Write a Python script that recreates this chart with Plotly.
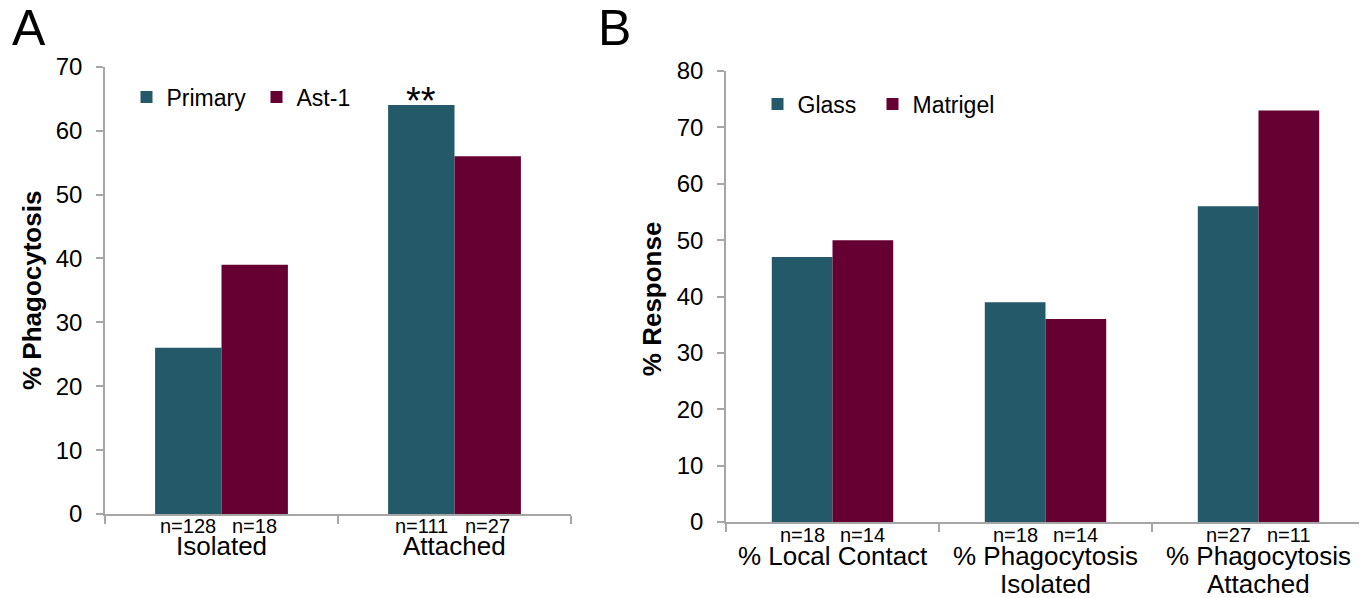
import plotly.graph_objects as go

# ---------------- data ----------------
cats_a = ["Isolated", "Attached"]
primary = [26, 64]
ast1 = [39, 56]
n_primary = ["n=128", "n=111"]
n_ast1 = ["n=18", "n=27"]

cats_b = ["% Local Contact", "% Phagocytosis<br>Isolated", "% Phagocytosis<br>Attached"]
glass = [47, 39, 56]
matrigel = [50, 36, 73]
n_glass = ["n=18", "n=18", "n=27"]
n_matrigel = ["n=14", "n=14", "n=11"]

TEAL = "#235968"
MAROON = "#660033"
AXIS = "#a6a6a6"
FONT = "Liberation Sans, Arial, Helvetica, sans-serif"
OFF = 8                      # page body margin of the browser
FW, FH = 1367 - OFF, 598 - OFF
GAP_A = 0.43
GAP_B = 0.43


def fx(p):
    """screen pixel x -> paper fraction"""
    return (p - OFF) / FW


def fy(p):
    """screen pixel y -> paper fraction"""
    return 1 - (p - OFF) / FH


fig = go.Figure()
fig.add_trace(go.Bar(x=list(range(len(cats_a))), y=primary, name="Primary", marker_color=TEAL,
                     marker_line_width=0, xaxis="x", yaxis="y", legend="legend"))
fig.add_trace(go.Bar(x=list(range(len(cats_a))), y=ast1, name="Ast-1", marker_color=MAROON,
                     marker_line_width=0, xaxis="x", yaxis="y", legend="legend2"))
fig.add_trace(go.Bar(x=list(range(len(cats_b))), y=glass, name="Glass", marker_color=TEAL,
                     marker_line_width=0, xaxis="x2", yaxis="y2", legend="legend3"))
fig.add_trace(go.Bar(x=list(range(len(cats_b))), y=matrigel, name="Matrigel", marker_color=MAROON,
                     marker_line_width=0, xaxis="x2", yaxis="y2", legend="legend4"))

common_x = dict(showline=True, linecolor=AXIS, linewidth=1.5, ticks="outside", ticklen=8,
                tickcolor=AXIS, tickwidth=1.5, showgrid=False, zeroline=False,
                showticklabels=False, fixedrange=True)
common_y = dict(showline=True, linecolor=AXIS, linewidth=1.5, ticks="outside", ticklen=7,
                tickcolor=AXIS, tickwidth=1.5, showgrid=False, zeroline=False,
                tickfont=dict(size=24, color="black", family=FONT), ticklabelstandoff=9,
                dtick=10, tick0=0)


def one_legend(square_center_x, center_y):
    return dict(x=fx(square_center_x - 21), y=fy(center_y), xanchor="left", yanchor="middle",
                font=dict(size=23, family=FONT), itemwidth=30,
                bgcolor="rgba(0,0,0,0)")


fig.update_layout(
    width=FW, height=FH, margin=dict(l=0, r=0, t=0, b=0, autoexpand=False),
    paper_bgcolor="white", plot_bgcolor="white",
    font=dict(family=FONT, color="black"),
    barmode="group", bargap=GAP_A,
    xaxis=dict(domain=[fx(105), fx(571)], anchor="y", range=[-0.5, len(cats_a) - 0.5],
               tickvals=[-0.5, 0.5, 1.5], **common_x),
    yaxis=dict(domain=[fy(514), fy(66.7)], anchor="x", range=[0, 70], **common_y),
    xaxis2=dict(domain=[fx(726), fx(1365)], anchor="y2", range=[-0.5, len(cats_b) - 0.5],
                tickvals=[-0.5, 0.5, 1.5, 2.5], **common_x),
    yaxis2=dict(domain=[fy(522), fy(71)], anchor="x2", range=[0, 80], **common_y),
    legend=one_legend(147.5, 97),
    legend2=one_legend(277.5, 97),
    legend3=one_legend(778.5, 104),
    legend4=one_legend(893.5, 104),
    showlegend=True,
)

ann = []
off_a = (1 - GAP_A) / 4
off_b = (1 - GAP_B) / 4
for i, c in enumerate(cats_a):
    ann.append(dict(x=i, y=0, xref="x", yref="y", text=c, showarrow=False, yanchor="top",
                    yshift=-14.5, font=dict(size=26)))
    ann.append(dict(x=i - off_a, y=0, xref="x", yref="y", text=n_primary[i], showarrow=False,
                    yanchor="top", yshift=1, font=dict(size=20)))
    ann.append(dict(x=i + off_a, y=0, xref="x", yref="y", text=n_ast1[i], showarrow=False,
                    yanchor="top", yshift=1, font=dict(size=20)))
for i, c in enumerate(cats_b):
    for k, line in enumerate(c.split("<br>")):
        ann.append(dict(x=i, y=0, xref="x2", yref="y2", text=line, showarrow=False,
                        yanchor="top", yshift=-16.5 - 28.5 * k, font=dict(size=26)))
    ann.append(dict(x=i - off_b, y=0, xref="x2", yref="y2", text=n_glass[i], showarrow=False,
                    yanchor="top", yshift=0, font=dict(size=20)))
    ann.append(dict(x=i + off_b, y=0, xref="x2", yref="y2", text=n_matrigel[i], showarrow=False,
                    yanchor="top", yshift=0, font=dict(size=20)))

# significance marker over Attached / Primary
ann.append(dict(x=1 - off_a, y=primary[1], xref="x", yref="y", text="**", showarrow=False,
                yanchor="bottom", yshift=-19, font=dict(size=38)))

# axis titles
ann.append(dict(x=fx(31.5), y=fy(290.5), xref="paper", yref="paper", text="<b>% Phagocytosis</b>",
                textangle=-90, showarrow=False, xanchor="center", yanchor="middle",
                font=dict(size=26)))
ann.append(dict(x=fx(651.7), y=fy(298.5), xref="paper", yref="paper", text="<b>% Response</b>",
                textangle=-90, showarrow=False, xanchor="center", yanchor="middle",
                font=dict(size=26)))

# panel letters
ann.append(dict(x=fx(10), y=1, xref="paper", yref="paper", text="A", showarrow=False,
                xanchor="left", yanchor="top", yshift=10, font=dict(size=50)))
ann.append(dict(x=fx(596), y=1, xref="paper", yref="paper", text="B", showarrow=False,
                xanchor="left", yanchor="top", yshift=10, font=dict(size=50)))

fig.update_layout(annotations=ann)
fig.write_html("out.html")
